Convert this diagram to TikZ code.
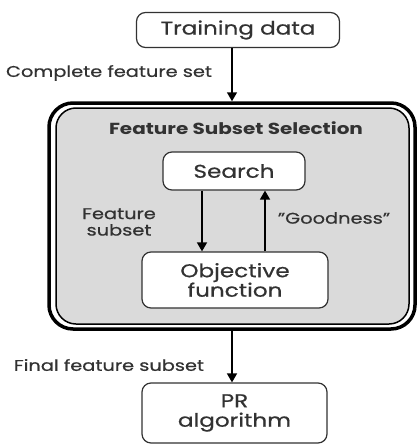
\documentclass[tikz,border=0pt]{standalone}
\usepackage{fontspec}
\setmainfont{Poppins}[FakeStretch=1.25, UprightFeatures={FakeBold=0.6}]
\usetikzlibrary{arrows.meta,positioning}
\definecolor{panelgray}{RGB}{218,218,218}
\definecolor{inkgray}{RGB}{50,50,50}

\tikzset{every picture/.style={line width=0.75pt}}
\tikzset{
  stagebox/.style={draw=inkgray, line width=1.2, rounded corners=9, fill=white, align=center,
    font=\fontsize{18.5}{19.5}\selectfont, text=inkgray, inner sep=0},
  note/.style={font=\fontsize{15.5}{16.5}\selectfont, text=inkgray, inner sep=0, align=center},
  flow/.style={-{Triangle[width=10,length=9]}, line width=1.5},
}

\begin{document}
\begin{tikzpicture}[x=1pt,y=1pt,yscale=-1,xscale=1]
\useasboundingbox (0,0) rectangle (419,447);

%Feature subset selection panel
\node (fssout) [draw, line width=3.5, rounded corners=24, minimum width=366, minimum height=226] at (232,216) {};
\node (fss) [draw, line width=1.5, rounded corners=20, fill=panelgray, minimum width=353, minimum height=216] at (232.5,216) {};
\node (fsstitle) [note, font=\fontsize{16}{17}\selectfont\bfseries] at (236,128) {Feature Subset Selection};

%Stages
\node (train) [stagebox, minimum width=203, minimum height=35] at (238,30) {Training data};
\node (search) [stagebox, minimum width=142, minimum height=38] at (234,171) {Search};
\node (objective) [stagebox, minimum width=186, minimum height=56] at (235,280) {Objective\\function};
\node (pr) [stagebox, minimum width=185, minimum height=60] at (234.5,413) {PR\\algorithm};

%Arrows
\draw [flow] (train.south -| fssout.north) -- (fssout.north);
\draw [flow] ([xshift=-32]search.south) -- ([xshift=-32]search.south |- objective.north);
\draw [flow] ([xshift=31]search.south |- objective.north) -- ([xshift=31]search.south);
\draw [flow] (fssout.south) -- (fssout.south |- pr.north);

% Text Node
\node (complete) [note] at (109,73) {Complete feature set};
% Text Node
\node (subset) [note] at (119,222) {Feature\\subset};
% Text Node
\node (goodness) [note] at (334,218) {"Goodness"};
% Text Node
\node (final) [note] at (109,365) {Final feature subset};

\end{tikzpicture}
\end{document}
